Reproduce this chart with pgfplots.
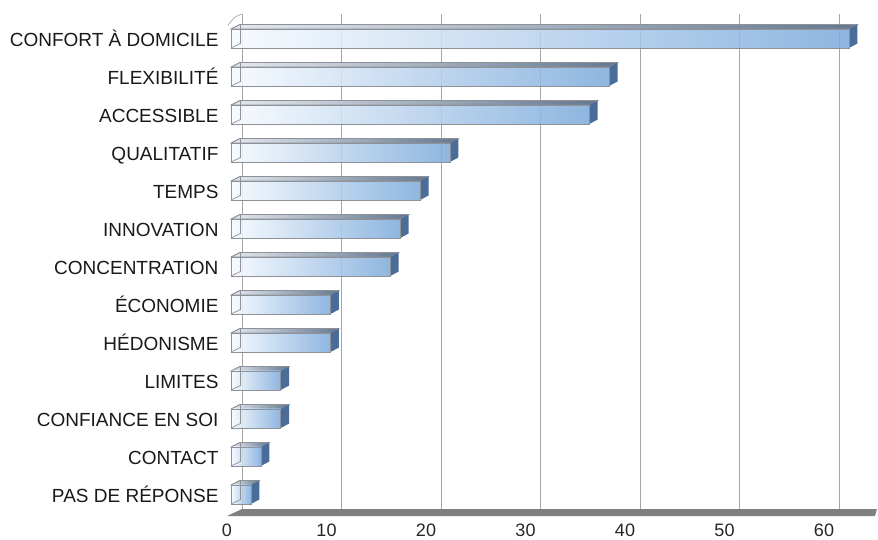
\documentclass[border=0pt]{standalone}
\usepackage{fontspec}
\setmainfont{Liberation Sans}
\usepackage{pgfplots}
\pgfplotsset{compat=1.18}
\definecolor{barL}{HTML}{F6FAFE}
\definecolor{barM}{HTML}{C3D8F0}
\definecolor{barR}{HTML}{7FACDC}
\definecolor{topL}{HTML}{E4E8EE}
\definecolor{topR}{HTML}{64788F}
\definecolor{sideC}{HTML}{4A6C98}
\definecolor{edgeC}{HTML}{8E9298}
\begin{document}
\begin{tikzpicture}[x=1pt,y=1pt]
\path[use as bounding box] (0,0) rectangle (878,540);
\begin{axis}[
  at={(227pt,24pt)}, anchor=south west,
  scale only axis, width=650pt, height=502pt,
  xmin=-0.402, xmax=64.925,
  ymin=-0.645, ymax=12.566, y dir=reverse,
  axis line style={draw=none},
  major tick length=0pt,
  xtick={1.106,11.106,21.106,31.106,41.106,51.106,61.106},
  xticklabels={0,10,20,30,40,50,60},
  xticklabel style={xshift=-15pt, yshift=-4pt, font=\fontsize{18}{20}\selectfont, text=black!85},
  ytick={0,...,12},
  yticklabels={CONFORT À DOMICILE,FLEXIBILITÉ,ACCESSIBLE,QUALITATIF,TEMPS,INNOVATION,CONCENTRATION,ÉCONOMIE,HÉDONISME,LIMITES,CONFIANCE EN SOI,CONTACT,PAS DE RÉPONSE},
  yticklabel style={font=\fontsize{19}{20}\selectfont, text=black!90, xshift=-5pt, text height=13.5pt, text depth=0pt, yshift=-1pt},
  xmajorgrids, ymajorgrids=false,
  grid style={draw=black!35, line width=1pt},
  clip=false,
]
% floor
\addplot[fill=black!50, draw=none, forget plot] coordinates {(-0.402,12.566) (1.106,12.382) (64.925,12.382) (64.725,12.566)} -- cycle;
% wall corner
\addplot[draw=black!35, line width=0.7pt, smooth, forget plot] coordinates {(-0.3,-0.35) (0.4,-0.56) (1.106,-0.645)};
% depth faces and front faces, one value per bar
\pgfplotsforeachungrouped \v/\y in {62.1/0,38/1,36/2,22/3,19/4,17/5,16/6,10/7,10/8,5/9,5/10,3/11,2/12}{
  \pgfmathsetmacro\xb{\v+0.85}
  \pgfmathsetmacro\yft{\y-0.25}
  \pgfmathsetmacro\yfb{\y+0.25}
  \pgfmathsetmacro\ybt{\y-0.368}
  \pgfmathsetmacro\ybb{\y+0.132}
  \edef\tmp{
    \noexpand\addplot[draw=edgeC, line width=0.6pt, left color=topL, right color=topR, forget plot] coordinates {(0,\yft) (0.85,\ybt) (\xb,\ybt) (\v,\yft)} -- cycle;
    \noexpand\addplot[draw=none, fill=sideC, forget plot] coordinates {(\v,\yft) (\xb,\ybt) (\xb,\ybb) (\v,\yfb)} -- cycle;
    \noexpand\addplot[xbar, bar width=19pt, bar shift=0pt, draw=edgeC, line width=0.7pt, left color=barL, middle color=barM, right color=barR, fill opacity=0.88, forget plot] coordinates {(\v,\y)};
    \noexpand\addplot[draw=edgeC, line width=0.7pt, forget plot] coordinates {(0,\yft) (0.95,\ybt) (0.95,\ybb) (0,\yfb)};
  }
  \tmp
}
\end{axis}
\end{tikzpicture}
\end{document}
